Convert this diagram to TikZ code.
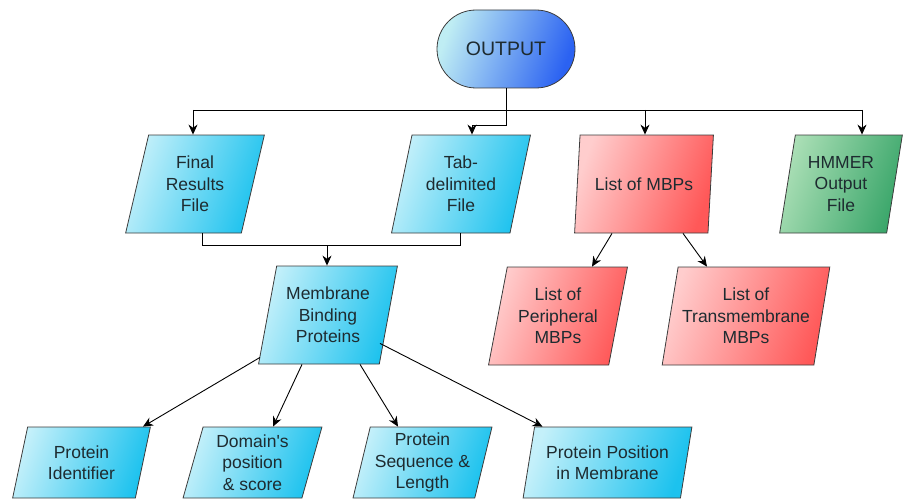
\documentclass[tikz,border=0pt]{standalone}
\usepackage{fontspec}
\setmainfont{Liberation Sans}
\usetikzlibrary{shapes.geometric,arrows.meta,calc}
\definecolor{cyL}{HTML}{C4F0FA}
\definecolor{cyM}{HTML}{5AD3F4}
\definecolor{cyD}{HTML}{1CC2EE}
\definecolor{rdL}{HTML}{FFCDCD}
\definecolor{rdM}{HTML}{FF8A8A}
\definecolor{rdD}{HTML}{FF5858}
\definecolor{grL}{HTML}{ABDFB6}
\definecolor{grM}{HTML}{72C58D}
\definecolor{grD}{HTML}{3AA66A}
\definecolor{ouL}{HTML}{BFEDF3}
\definecolor{ouM}{HTML}{5FA9F0}
\definecolor{ouD}{HTML}{2B62F2}
\definecolor{edgec}{HTML}{3C3C3C}
\definecolor{txt}{HTML}{1E2B30}
\begin{document}
\begin{tikzpicture}[x=1pt,y=-1pt,
  para/.style={trapezium, trapezium left angle=75.5, trapezium right angle=104.5,
    trapezium stretches=true, minimum width=139pt, minimum height=98pt,
    draw=edgec, line width=0.8pt, align=center, text=txt,
    font=\fontsize{17.5}{21.5}\selectfont, inner sep=2pt},
  cyanbox/.style={para, left color=cyL, middle color=cyM, right color=cyD, shading angle=70},
  redbox/.style={para, left color=rdL, middle color=rdM, right color=rdD, shading angle=70},
  greenbox/.style={para, left color=grL, middle color=grM, right color=grD, shading angle=70},
  outbox/.style={rectangle, rounded corners=39pt, minimum width=138pt, minimum height=78pt,
    draw=edgec, line width=0.8pt, left color=ouL, middle color=ouM, right color=ouD, shading angle=70,
    text=txt, font=\fontsize{19.5}{23}\selectfont},
  arr/.style={-{Stealth[length=10pt,width=9pt]}, line width=0.9pt},
  link/.style={line width=0.9pt}
  ]
\useasboundingbox (0,0) rectangle (904,500);
\clip (0,0) rectangle (904,500);

\node[outbox] (out) at (506,49) {OUTPUT};

\node[cyanbox] (final) at (195,184) {Final\\Results\\File};
\node[cyanbox] (tab) at (461,184) {Tab-\\delimited\\File};
\node[redbox] (mbps) at (644,184) {List of MBPs};
\node[greenbox, minimum width=123pt, trapezium left angle=78.5, trapezium right angle=101.5] (hmmer) at (841,184) {HMMER\\Output\\File};

\node[cyanbox] (mem) at (328,315) {Membrane\\Binding\\Proteins};
\node[redbox] (peri) at (558,316) {List of\\Peripheral\\MBPs};
\node[redbox, minimum width=168pt] (trans) at (746,316) {List of\\Transmembrane\\MBPs};

\node[cyanbox, minimum height=71pt] (pid) at (81.5,462.5) {Protein\\Identifier};
\node[cyanbox, minimum height=71pt] (dom) at (252.5,462.5) {Domain\textquotesingle s\\position\\\& score};
\node[cyanbox, minimum height=71pt] (seq) at (422.5,462.5) {Protein\\Sequence \&\\Length};
\node[cyanbox, minimum height=71pt, minimum width=169pt] (pos) at (607.5,462.5) {Protein Position\\in Membrane};

% top distribution
\coordinate (k1) at (472,125);
\draw[arr] (out.south) |- (k1) -- (tab.north -| k1);
\coordinate (bL) at (193,110);
\coordinate (bM) at (645,110);
\coordinate (bR) at (862,110);
\draw[link] (bL) -- (bR);
\draw[arr] (bL) -- (final.north -| bL);
\draw[arr] (bM) -- (mbps.north -| bM);
\draw[arr] (bR) -- (hmmer.north -| bR);

% merge into membrane binding proteins
\coordinate (mL) at (202,245);
\coordinate (mR) at (460,245);
\coordinate (mC) at (327,245);
\draw[link] (final.south -| mL) -- (mL) -- (mR) -- (tab.south -| mR);
\draw[arr] (mC) -- (mem.north -| mC);

% list of MBPs split
\draw[arr] ($(mbps.south)+(-32,0)$) -- ($(peri.north)+(34,0)$);
\draw[arr] ($(mbps.south)+(39,0)$) -- ($(trans.north)+(-39,0)$);

% membrane binding proteins children
\draw[arr] ($(mem.south)+(-68,-7)$) -- ($(pid.north)+(61.5,0)$);
\draw[arr] ($(mem.south)+(-26,0)$) -- ($(dom.north)+(20.5,0)$);
\draw[arr] ($(mem.south)+(32,0)$) -- ($(seq.north)+(-24.5,0)$);
\draw[arr] ($(mem.south)+(52,-21)$) -- ($(pos.north)+(-65,0)$);
\end{tikzpicture}
\end{document}
